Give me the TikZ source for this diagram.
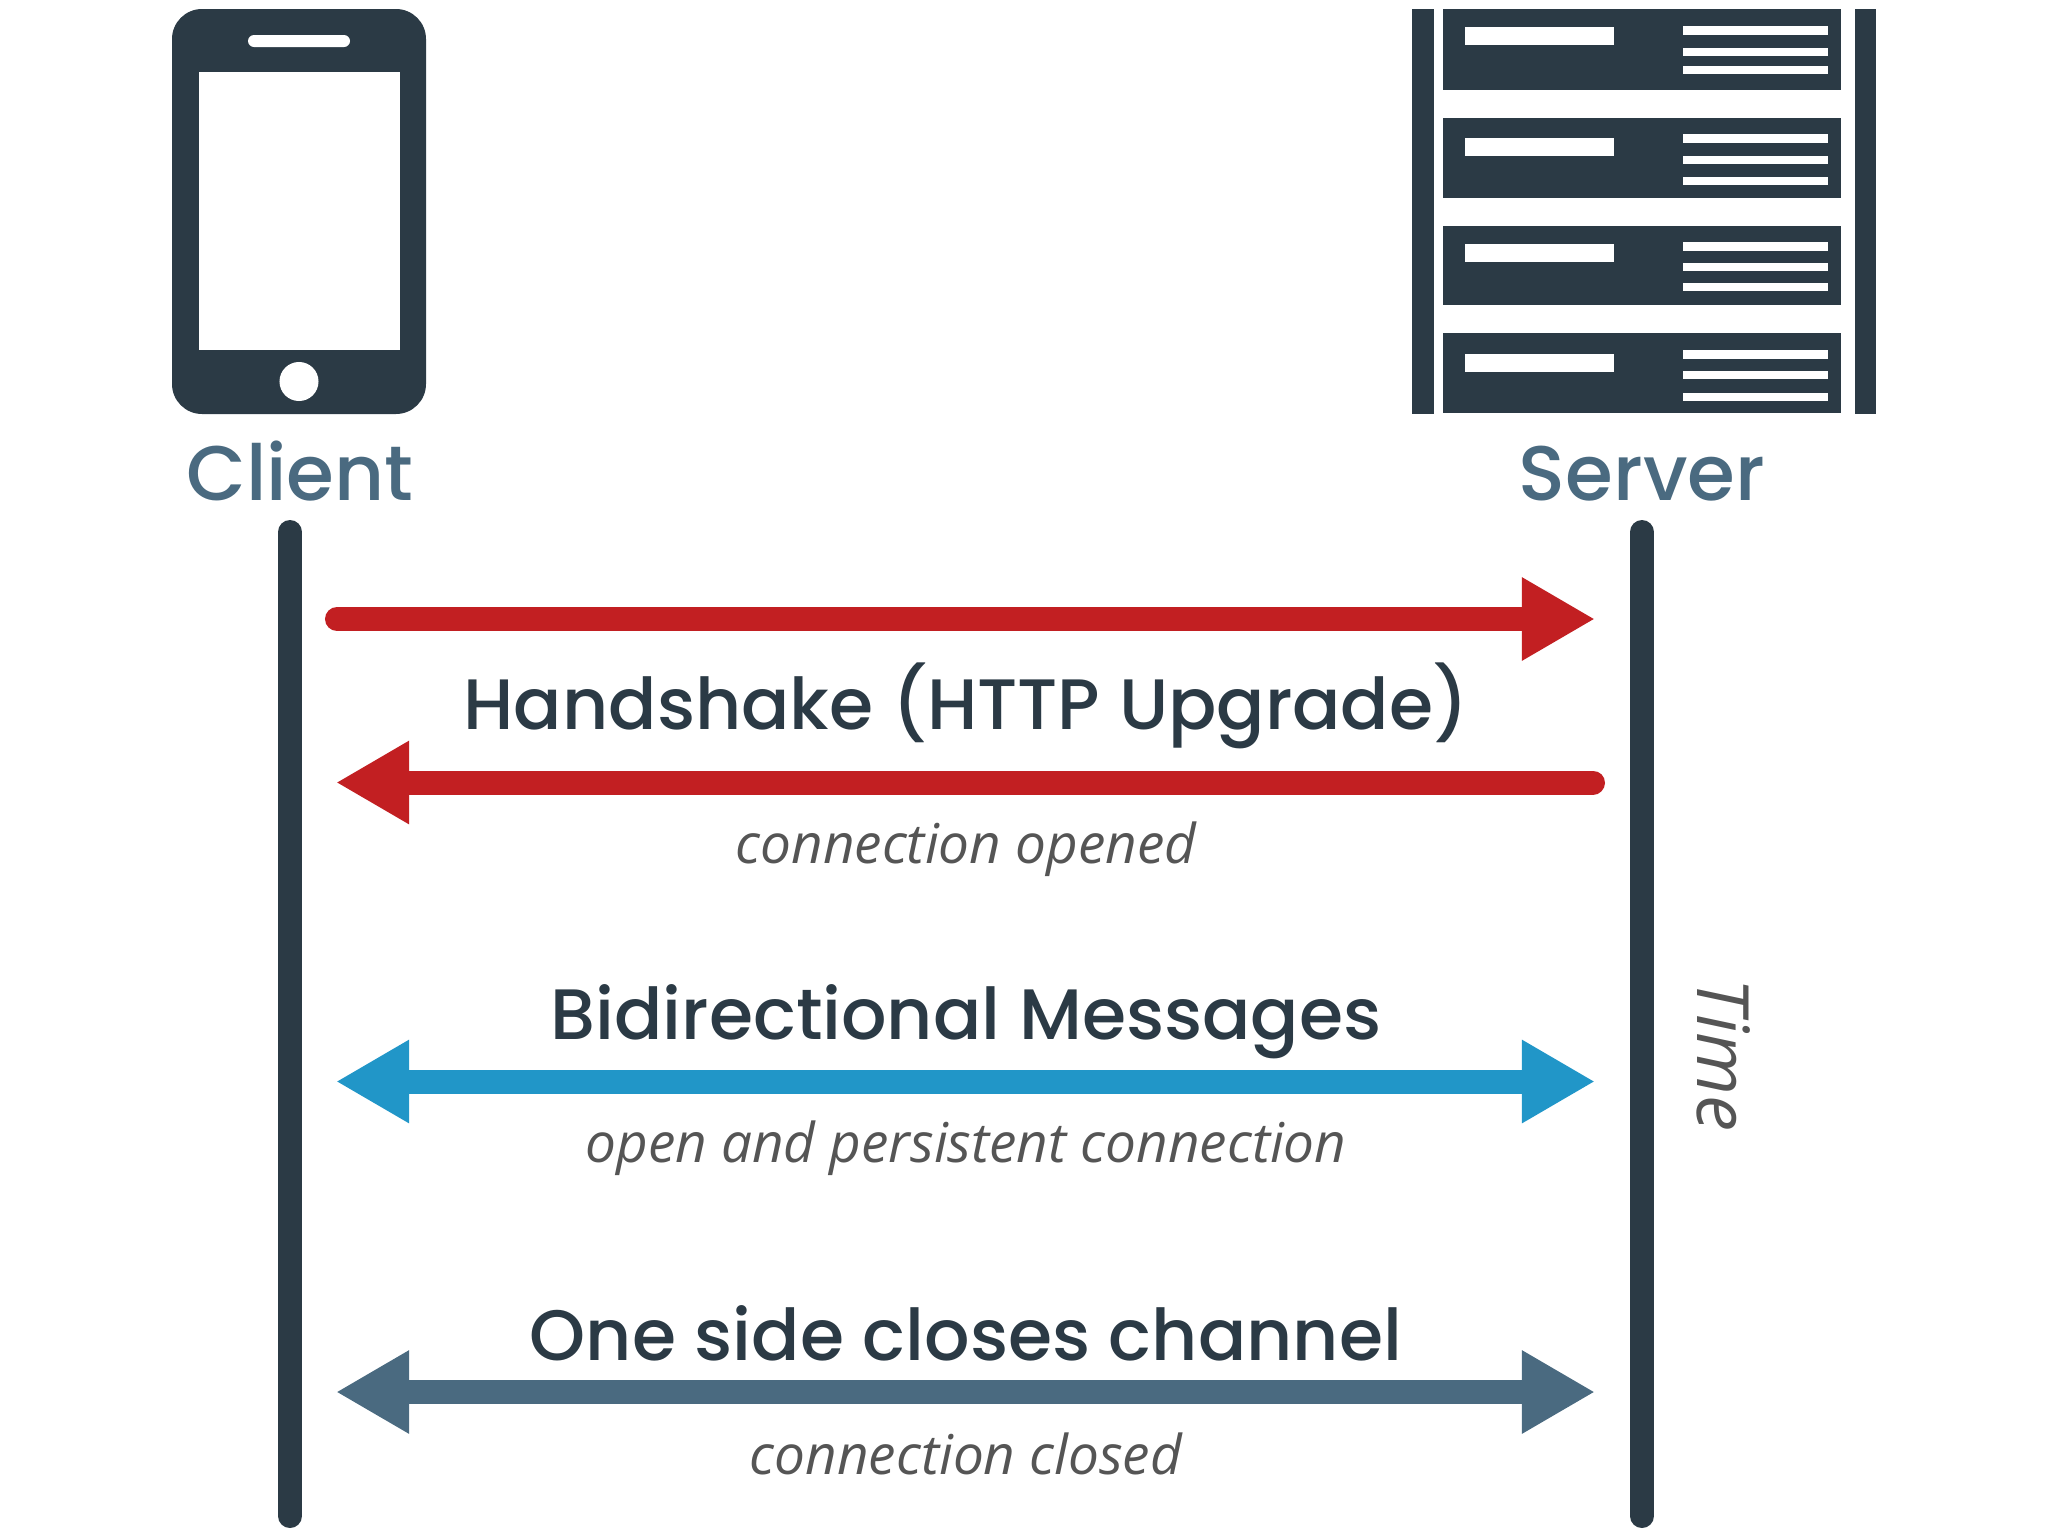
\documentclass[tikz,border=0pt]{standalone}
\usepackage{fontspec}
\usepackage{tikz}
\usetikzlibrary{arrows.meta}
\newfontfamily\labelfont[UprightFont=*-Medium]{Poppins}
\newfontfamily\notefont{Open Sans}
\definecolor{ink}{HTML}{2B3A45}
\definecolor{slate}{HTML}{4A6A80}
\definecolor{signal}{HTML}{C21F22}
\definecolor{duplex}{HTML}{2196C8}
\definecolor{remark}{HTML}{555555}

\begin{document}
\begin{tikzpicture}[
  x=0.01cm,y=-0.01cm,
  >={Triangle[length=0.73cm,width=0.78cm]},
  lifeline/.style={ink,line width=0.24cm,line cap=round},
  message/.style={line width=0.24cm,line cap=round},
  title/.style={anchor=base,inner sep=0pt,slate,font=\labelfont\fontsize{22}{26}\selectfont},
  heading/.style={anchor=base,inner sep=0pt,ink,font=\labelfont\fontsize{20.3}{24}\selectfont},
  note/.style={anchor=base,inner sep=0pt,remark,font=\notefont\itshape\fontsize{15.6}{19}\selectfont}
]
  % Geometry is in pixels of the 2048 x 1536 frame, y running downwards.
  \useasboundingbox (0,0) rectangle (2048,1536);

  % Phone.
  \fill[ink,rounded corners=0.3cm] (172,9) rectangle (426,414);
  \fill[white] (198.5,72) rectangle (400,350);
  \fill[white,rounded corners=0.06cm] (248,35) rectangle (350,47);
  \fill[white] (299,381.5) circle (0.195cm);

  % Server rack: posts, then one row per unit.
  \fill[ink] (1412,9) rectangle (1434,414);
  \fill[ink] (1855,9) rectangle (1876,414);
  \foreach \top/\bottom/\tag/\one/\two/\three in {
    9/89.5/27/25.5/47.5/66,
    117.5/198/138/133.5/156/176.5,
    225.5/305/244/242/262.5/282.5,
    332.5/412.5/354/350/370.5/392.5}
  {
    \fill[ink] (1443,\top) rectangle (1841,\bottom);
    \fill[white] (1465,\tag) rectangle (1614,\tag+18);
    \fill[white] (1683,\one) rectangle (1828,\one+9);
    \fill[white] (1683,\two) rectangle (1828,\two+8);
    \fill[white] (1683,\three) rectangle (1828,\three+8);
  }

  \node[title] (client) at (300,500) {Client};
  \node[title] (server) at (1642,500) {Server};

  % Lifelines.
  \coordinate (clientTop) at (290,532);
  \coordinate (clientEnd) at (290,1516);
  \coordinate (serverTop) at (1642,532);
  \coordinate (serverEnd) at (1642,1516);
  \draw[lifeline] (clientTop) -- (clientEnd);
  \draw[lifeline] (serverTop) -- (serverEnd);

  % Handshake, out and back.
  \coordinate (upgradeA) at (337,619);
  \coordinate (upgradeB) at (1595,619);
  \coordinate (openedA) at (336,782.5);
  \coordinate (openedB) at (1593,782.5);
  \draw[message,signal,->] (upgradeA) -- (upgradeB);
  \draw[message,signal,->] (openedB) -- (openedA);
  \node[heading] (handshake) at (966,729) {Handshake (HTTP Upgrade)};
  \node[note] (opened) at (966,863) {connection opened};

  % Open channel.
  \coordinate (duplexA) at (336,1081.5);
  \coordinate (duplexB) at (1595,1081.5);
  \draw[message,duplex,line cap=butt,<->] (duplexA) -- (duplexB);
  \node[heading] (messages) at (966,1039) {Bidirectional Messages};
  \node[note] (persistent) at (966,1162) {open and persistent connection};

  % Closing.
  \coordinate (closeA) at (336,1392);
  \coordinate (closeB) at (1595,1392);
  \draw[message,slate,line cap=butt,<->] (closeA) -- (closeB);
  \node[heading] (closes) at (966,1360) {One side closes channel};
  \node[note] (closed) at (966,1474) {connection closed};

  \node[note,rotate=-90,font=\notefont\itshape\fontsize{20.5}{24}\selectfont] (time) at (1697,1055) {Time};
\end{tikzpicture}
\end{document}
